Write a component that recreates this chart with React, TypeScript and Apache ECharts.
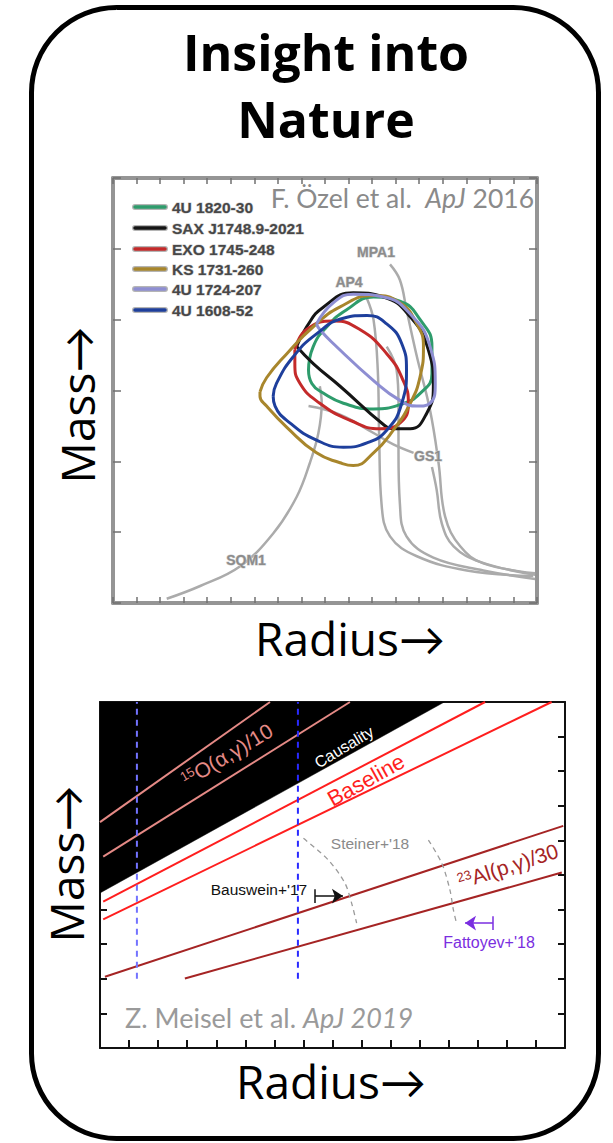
import React, { useEffect, useRef } from "react";
import * as echarts from "echarts";

// ---------- Top panel (Özel et al. 2016): radius (km) vs mass (Msun) ----------
const topRadiusRange = [6, 15];
const topMassRange = [0, 3];

const legendNames = ["4U 1820-30", "SAX J1748.9-2021", "EXO 1745-248", "KS 1731-260", "4U 1724-207", "4U 1608-52"];
const legendColors = ["#2e9c6c", "#151515", "#c42a2a", "#a8862c", "#8e8ed2", "#1e3f9c"];

const c4U1820 = [[10.15,1.645],[10.25,1.81],[10.54,1.95],[10.96,2.07],[11.53,2.16],[12.09,2.13],[12.52,2.0],[12.77,1.81],[12.77,1.62],[12.52,1.48],[12.09,1.4],[11.53,1.37],[10.89,1.41],[10.47,1.48],[10.22,1.55],[10.15,1.645]];
const cSAX = [[9.9,1.81],[10.11,1.95],[10.47,2.09],[11.1,2.19],[11.74,2.16],[12.31,2.02],[12.69,1.79],[12.8,1.53],[12.66,1.34],[12.31,1.23],[11.95,1.23],[11.74,1.26],[10.82,1.53],[10.25,1.69],[9.9,1.81]];
const cEXO = [[9.86,1.79],[10.11,1.93],[10.68,1.99],[11.24,1.93],[11.81,1.76],[12.16,1.57],[12.27,1.41],[12.09,1.27],[11.67,1.23],[11.03,1.29],[10.39,1.41],[9.97,1.55],[9.86,1.69],[9.86,1.79]];
const cKS = [[9.12,1.49],[9.26,1.59],[9.69,1.76],[10.25,1.95],[10.82,2.09],[11.53,2.17],[12.09,2.12],[12.45,1.97],[12.59,1.81],[12.52,1.6],[12.31,1.41],[11.95,1.22],[11.53,1.06],[11.1,0.97],[10.82,0.99],[10.32,1.06],[9.69,1.24],[9.26,1.39],[9.12,1.46],[9.12,1.49]];
const c4U1724 = [[10.32,1.97],[10.68,2.12],[11.1,2.18],[11.74,2.16],[12.31,2.04],[12.73,1.81],[12.84,1.55],[12.73,1.41],[12.45,1.39],[12.09,1.43],[11.53,1.57],[10.68,1.83],[10.39,1.93],[10.32,1.97]];
const c4U1608 = [[9.4,1.46],[9.47,1.55],[9.83,1.74],[10.32,1.9],[10.89,2.01],[11.39,2.03],[11.81,1.97],[12.13,1.83],[12.23,1.645],[12.13,1.41],[11.81,1.22],[11.39,1.13],[10.89,1.1],[10.32,1.15],[9.76,1.27],[9.44,1.39],[9.4,1.46]];
const contours = [c4U1820, cSAX, cEXO, cKS, c4U1724, c4U1608];

const eosSQM1 = [[7.14,0.03],[7.85,0.12],[8.7,0.26],[9.4,0.49],[9.9,0.75],[10.18,0.99],[10.36,1.2],[10.43,1.41],[10.39,1.53]];
const eosAP4 = [[11.39,2.15],[11.53,2.0],[11.62,1.645],[11.65,1.17],[11.7,0.7],[11.88,0.47],[12.45,0.33],[13.51,0.23],[14.92,0.19]];
const eosMPA1 = [[11.88,2.39],[12.09,2.28],[12.23,2.07],[12.45,1.74],[12.73,1.36],[12.91,0.99],[13.05,0.61],[13.37,0.4],[13.86,0.28],[14.96,0.21]];
const eosGS1 = [[12.77,0.96],[12.87,0.8],[12.98,0.56],[13.23,0.4],[13.79,0.29],[14.96,0.2]];
const eosOther = [[11.81,1.81],[12.02,1.645],[12.06,1.41],[12.06,1.06],[12.09,0.7],[12.23,0.47],[12.8,0.32],[13.86,0.23],[14.96,0.17]];
const eosCross = [[10.15,1.39],[10.82,1.33],[11.53,1.2],[11.95,1.12],[12.38,1.06]];
const eosCurves = [eosSQM1, eosAP4, eosMPA1, eosGS1, eosOther, eosCross];
const eosLabels = ["MPA1", "AP4", "GS1", "SQM1"];

// ---------- Bottom panel (Meisel et al. 2019) ----------
const botXRange = [0, 16];
const botYRange = [0, 10];
const causality = [[0,4.48],[11.85,10]];
const o15Lines = [[[0,6.53],[5.85,10]], [[0.11,5.53],[8.6,10]]];
const baselineLines = [[[0.11,4.23],[13.25,10]], [[0.11,3.72],[15.54,10]]];
const al23Lines = [[[0.17,2.06],[15.94,6.42]], [[2.92,2.01],[15.89,5.07]]];
const blueDashLeft = [[1.27,2.0],[1.27,10]];
const blueDashRight = [[6.81,2.0],[6.81,10]];
const steinerA = [[7.0,6.06],[7.86,5.43],[8.43,4.76],[8.66,4.18],[8.83,3.61]];
const steinerB = [[11.3,6.01],[11.76,5.34],[12.04,4.57],[12.16,3.99],[12.27,3.6]];
const bausweinArrow = { from: 7.4, to: 8.36, y: 4.39 };
const fattoyevArrow = { from: 13.52, to: 12.56, y: 3.61 };

const CAL = "Lato, 'Open Sans', sans-serif";
const OPEN = "'Open Sans', Lato, sans-serif";
const ARIAL = "'Liberation Sans', Arial, sans-serif";

function lineSeries(data: number[][], color: string, width: number, grid: number, extra: any = {}) {
  const { lineStyle: extraLine, ...rest } = extra;
  return {
    type: "line",
    xAxisIndex: grid === 0 ? 0 : 2,
    yAxisIndex: grid === 0 ? 0 : 2,
    data,
    showSymbol: false,
    symbol: "none",
    silent: true,
    ...rest,
    lineStyle: { color, width, ...(extraLine || {}) },
  };
}

function arrowSeries(a: { from: number; to: number; y: number }, color: string) {
  return {
    type: "line",
    xAxisIndex: 2,
    yAxisIndex: 2,
    data: [],
    silent: true,
    markLine: {
      silent: true,
      animation: false,
      label: { show: false },
      symbol: ["none", "none"],
      lineStyle: { color, width: 1.5, type: "solid" },
      data: [
        [{ coord: [a.from, a.y] }, { coord: [a.to, a.y], symbol: "arrow", symbolSize: 11 }],
        [{ coord: [a.from, a.y + 0.2] }, { coord: [a.from, a.y - 0.2] }],
      ],
    },
  };
}

function buildOption() {
  const series: any[] = [];
  eosCurves.forEach((c) => series.push(lineSeries(c, "#ababab", 2.5, 0, { smooth: 0.4 })));
  contours.forEach((c, i) =>
    series.push(lineSeries(c, legendColors[i], 3, 0, { smooth: 0.5, name: legendNames[i] }))
  );

  series.push(
    lineSeries(causality, "#000", 0.5, 1, {
      areaStyle: { color: "#000", opacity: 1, origin: "end" },
    })
  );
  o15Lines.forEach((l) => series.push(lineSeries(l, "#e58a86", 2, 1)));
  baselineLines.forEach((l) => series.push(lineSeries(l, "#ff1e1e", 2, 1)));
  al23Lines.forEach((l) => series.push(lineSeries(l, "#a52424", 2, 1)));
  series.push(lineSeries(blueDashLeft, "#7373ff", 2, 1, { lineStyle: { type: [6, 5] } }));
  series.push(lineSeries(blueDashRight, "#2a2aff", 2, 1, { lineStyle: { type: [6, 5] } }));
  series.push(lineSeries(steinerA, "#9a9a9a", 1.3, 1, { smooth: 0.3, lineStyle: { type: [5, 4] } }));
  series.push(lineSeries(steinerB, "#9a9a9a", 1.3, 1, { smooth: 0.3, lineStyle: { type: [5, 4] } }));
  series.push(arrowSeries(bausweinArrow, "#111"));
  series.push(arrowSeries(fattoyevArrow, "#7a2ee0"));

  const topAxisLine = { show: true, onZero: false, lineStyle: { color: "#959595", width: 4 } };
  const topTick = (len: number) => ({ show: true, inside: true, length: len, lineStyle: { color: "#707070", width: 1.5 } });
  const botAxisLine = { show: true, onZero: false, lineStyle: { color: "#111", width: 2 } };
  const botTick = (len: number) => ({ show: true, inside: true, length: len, lineStyle: { color: "#111", width: 2 } });
  const common = { type: "value", axisLabel: { show: false }, splitLine: { show: false } };

  const graphic: any[] = [];
  graphic.push({
    type: "rect",
    shape: { x: 31.5, y: 7.5, width: 567, height: 1131, r: 85 },
    style: { fill: "none", stroke: "#000", lineWidth: 5 },
  });
  graphic.push({ type: "text", x: 326, y: 52, style: { text: "Insight into", font: `bold 50px ${OPEN}`, fill: "#000", align: "center", verticalAlign: "middle" } });
  graphic.push({ type: "text", x: 326, y: 119, style: { text: "Nature", font: `bold 50px ${OPEN}`, fill: "#000", align: "center", verticalAlign: "middle" } });
  // axis titles
  graphic.push({ type: "text", x: 77, y: 405, rotation: Math.PI / 2, style: { text: "Mass→", font: `46px ${OPEN}`, fill: "#000", align: "center", verticalAlign: "middle" } });
  graphic.push({ type: "text", x: 350, y: 638, style: { text: "Radius→", font: `46px ${OPEN}`, fill: "#000", align: "center", verticalAlign: "middle" } });
  graphic.push({ type: "text", x: 66, y: 864, rotation: Math.PI / 2, style: { text: "Mass→", font: `46px ${OPEN}`, fill: "#000", align: "center", verticalAlign: "middle" } });
  graphic.push({ type: "text", x: 331, y: 1081, style: { text: "Radius→", font: `46px ${OPEN}`, fill: "#000", align: "center", verticalAlign: "middle" } });

  // top panel annotations
  graphic.push({
    type: "text", x: 534, y: 198, z: 100,
    style: {
      text: "{n|F. Özel et al.  }{i|ApJ}{n| 2016}", align: "right", verticalAlign: "middle",
      rich: {
        n: { fontFamily: CAL, fontSize: 26.5, fill: "#8a8a8a" },
        i: { fontFamily: CAL, fontSize: 26.5, fontStyle: "italic", fill: "#8a8a8a" },
      },
    },
  });
  const rows = [207, 228, 249, 269, 289, 310];
  legendNames.forEach((n, i) => {
    graphic.push({ type: "line", z: 100, shape: { x1: 135, y1: rows[i], x2: 165, y2: rows[i] }, style: { stroke: "#b5b5b5", lineWidth: 6, lineCap: "round" } });
    graphic.push({ type: "line", z: 101, shape: { x1: 135, y1: rows[i], x2: 165, y2: rows[i] }, style: { stroke: legendColors[i], lineWidth: 3.5, lineCap: "round" } });
    graphic.push({ type: "text", z: 101, x: 172, y: rows[i], style: { text: n, font: `bold 15.5px ${ARIAL}`, fill: "#474747", align: "left", verticalAlign: "middle", stroke: "#c8c8c8", lineWidth: 1 } });
  });
  const eosLabelPos = [[376, 252], [349, 282], [428, 456], [246, 560]];
  eosLabels.forEach((t, i) => {
    graphic.push({ type: "text", z: 100, x: eosLabelPos[i][0], y: eosLabelPos[i][1], style: { text: t, font: `bold 14px ${ARIAL}`, fill: "#8c8c8c", align: "center", verticalAlign: "middle", stroke: "#d0d0d0", lineWidth: 1 } });
  });

  // bottom panel annotations
  const deg = Math.PI / 180;
  graphic.push({
    type: "text", z: 100, x: 227, y: 755, rotation: 31 * deg,
    style: {
      text: "{s|15}{n|O(α,γ)/10}", align: "center", verticalAlign: "middle",
      rich: {
        s: { fontFamily: ARIAL, fontSize: 13, fill: "#e58a86", verticalAlign: "top" },
        n: { fontFamily: ARIAL, fontSize: 21, fill: "#e58a86" },
      },
    },
  });
  graphic.push({ type: "text", z: 100, x: 344, y: 747, rotation: 31 * deg, style: { text: "Causality", font: `16px ${ARIAL}`, fill: "#fff", align: "center", verticalAlign: "middle" } });
  graphic.push({ type: "text", z: 100, x: 366, y: 780, rotation: 29 * deg, style: { text: "Baseline", font: `22px ${ARIAL}`, fill: "#ff1e1e", align: "center", verticalAlign: "middle" } });
  graphic.push({ type: "text", z: 100, x: 370, y: 843, style: { text: "Steiner+'18", font: `15.5px ${ARIAL}`, fill: "#8a8a8a", align: "center", verticalAlign: "middle" } });
  graphic.push({ type: "text", z: 100, x: 259, y: 889, style: { text: "Bauswein+'17", font: `15.5px ${ARIAL}`, fill: "#111", align: "center", verticalAlign: "middle" } });
  graphic.push({
    type: "text", z: 100, x: 508, y: 866, rotation: 18 * deg,
    style: {
      text: "{s|23}{n|Al(p,γ)/30}", align: "center", verticalAlign: "middle",
      rich: {
        s: { fontFamily: ARIAL, fontSize: 13, fill: "#a52424", verticalAlign: "top" },
        n: { fontFamily: ARIAL, fontSize: 21, fill: "#a52424" },
      },
    },
  });
  graphic.push({ type: "text", z: 100, x: 489, y: 942, style: { text: "Fattoyev+'18", font: `16px ${ARIAL}`, fill: "#7a2ee0", align: "center", verticalAlign: "middle" } });
  graphic.push({
    type: "text", z: 100, x: 125, y: 1017,
    style: {
      text: "{n|Z. Meisel et al. }{i|ApJ 2019}", align: "left", verticalAlign: "middle",
      rich: {
        n: { fontFamily: CAL, fontSize: 27, fill: "#9a9a9a" },
        i: { fontFamily: CAL, fontSize: 27, fontStyle: "italic", fill: "#9a9a9a" },
      },
    },
  });

  return {
    animation: false,
    backgroundColor: "#fff",
    grid: [
      { left: 113, top: 178, width: 424, height: 425, show: false },
      { left: 100, top: 702, width: 465, height: 346, show: false },
    ],
    xAxis: [
      { ...common, gridIndex: 0, min: topRadiusRange[0], max: topRadiusRange[1], interval: 0.5, position: "bottom", axisLine: topAxisLine, axisTick: topTick(6) },
      { ...common, gridIndex: 0, min: topRadiusRange[0], max: topRadiusRange[1], interval: 0.5, position: "top", axisLine: topAxisLine, axisTick: topTick(6) },
      { ...common, gridIndex: 1, min: botXRange[0], max: botXRange[1], interval: 1, position: "bottom", axisLine: botAxisLine, axisTick: botTick(8) },
      { ...common, gridIndex: 1, min: botXRange[0], max: botXRange[1], interval: 1, position: "top", axisLine: botAxisLine, axisTick: { show: false } },
    ],
    yAxis: [
      { ...common, gridIndex: 0, min: topMassRange[0], max: topMassRange[1], interval: 0.5, position: "left", axisLine: topAxisLine, axisTick: topTick(8) },
      { ...common, gridIndex: 0, min: topMassRange[0], max: topMassRange[1], interval: 0.5, position: "right", axisLine: topAxisLine, axisTick: topTick(8) },
      { ...common, gridIndex: 1, min: botYRange[0], max: botYRange[1], interval: 1, position: "left", axisLine: botAxisLine, axisTick: botTick(7) },
      { ...common, gridIndex: 1, min: botYRange[0], max: botYRange[1], interval: 1, position: "right", axisLine: botAxisLine, axisTick: botTick(7) },
    ],
    series,
    graphic,
  };
}

export default function App() {
  const ref = useRef<HTMLDivElement>(null);
  useEffect(() => {
    if (!ref.current) return;
    const chart = echarts.init(ref.current, null, { renderer: "svg" });
    chart.setOption(buildOption() as any);
    return () => chart.dispose();
  }, []);
  return (
    <div
      ref={ref}
      style={{ position: "absolute", left: 0, top: 0, width: 613, height: 1143, background: "#fff" }}
    />
  );
}
